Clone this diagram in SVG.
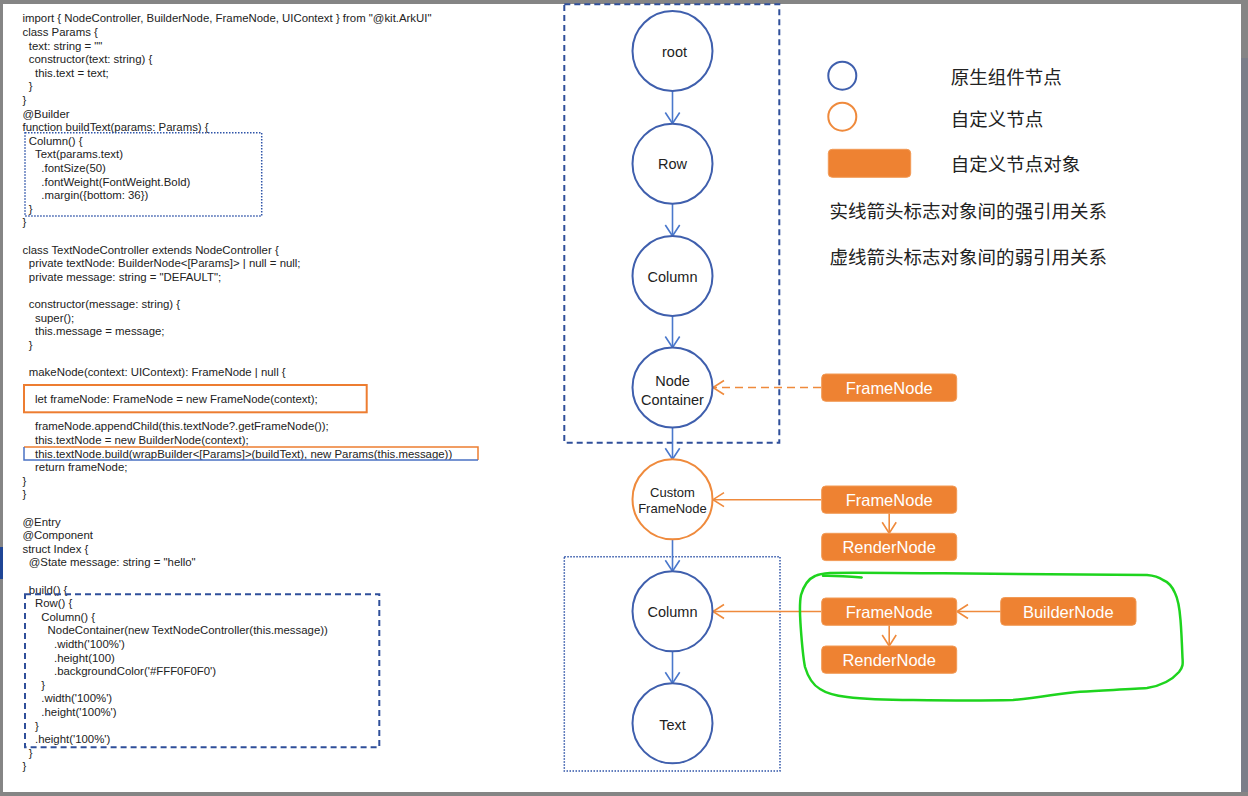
<svg xmlns="http://www.w3.org/2000/svg" width="1248" height="796" viewBox="0 0 1248 796">
<style>
.code{font-family:"Liberation Sans",Arial,sans-serif;font-size:11.4px;fill:#222}
.cn{font-family:"Noto Sans CJK SC","Noto Sans",sans-serif;font-size:18.5px;fill:#222;dominant-baseline:central}
.nt{font-family:"Liberation Sans",Arial,sans-serif;font-size:14.5px;fill:#222;text-anchor:middle;dominant-baseline:central}
.nts{font-family:"Liberation Sans",Arial,sans-serif;font-size:13px;fill:#222;text-anchor:middle;dominant-baseline:central}
.bt{font-family:"Liberation Sans",Arial,sans-serif;font-size:16.5px;fill:#fff;text-anchor:middle;dominant-baseline:central}
.cb{fill:#fff;stroke:#3f5fad;stroke-width:2}
.co{fill:#fff;stroke:#ef8a3c;stroke-width:2}
.box{fill:#ee8232;stroke:#f29a55;stroke-width:1}
.ab{fill:none;stroke:#4a78cc;stroke-width:1.6}
.ao{fill:none;stroke:#ef8a3c;stroke-width:1.6}
</style>
<defs>
<marker id="mb" markerUnits="userSpaceOnUse" markerWidth="16" markerHeight="18" refX="12" refY="8" orient="auto">
<path d="M1,0.8 L12,8 L1,15.2" fill="none" stroke="#4a78cc" stroke-width="1.6"/>
</marker>
<marker id="mo" markerUnits="userSpaceOnUse" markerWidth="16" markerHeight="18" refX="12" refY="8" orient="auto">
<path d="M1,1 L12,8 L1,15" fill="none" stroke="#ef8a3c" stroke-width="1.6"/>
</marker>
</defs>
<!-- frame -->
<rect x="0" y="0" width="1248" height="796" fill="#858585"/>
<rect x="1241" y="58" width="7" height="734" fill="#7a7e89"/>
<rect x="0" y="547" width="3" height="32" fill="#1f4595"/>
<rect x="3" y="4" width="1238" height="788" fill="#fff"/>

<!-- code -->
<g id="code">
<text class="code" x="22.5" y="22.3">import { NodeController, BuilderNode, FrameNode, UIContext } from "@kit.ArkUI"</text>
<text class="code" x="22.5" y="35.9">class Params {</text>
<text class="code" x="28.8" y="49.5">text: string = ""</text>
<text class="code" x="28.8" y="63.1">constructor(text: string) {</text>
<text class="code" x="35" y="76.7">this.text = text;</text>
<text class="code" x="28.8" y="90.3">}</text>
<text class="code" x="22.5" y="103.9">}</text>
<text class="code" x="22.5" y="117.5">@Builder</text>
<text class="code" x="22.5" y="131.1">function buildText(params: Params) {</text>
<text class="code" x="28.8" y="144.7">Column() {</text>
<text class="code" x="35" y="158.3">Text(params.text)</text>
<text class="code" x="41.3" y="171.9">.fontSize(50)</text>
<text class="code" x="41.3" y="185.5">.fontWeight(FontWeight.Bold)</text>
<text class="code" x="41.3" y="199.1">.margin({bottom: 36})</text>
<text class="code" x="28.8" y="212.7">}</text>
<text class="code" x="22.5" y="226.3">}</text>
<text class="code" x="22.5" y="253.5">class TextNodeController extends NodeController {</text>
<text class="code" x="28.8" y="267.1">private textNode: BuilderNode&lt;[Params]&gt; | null = null;</text>
<text class="code" x="28.8" y="280.7">private message: string = "DEFAULT";</text>
<text class="code" x="28.8" y="307.9">constructor(message: string) {</text>
<text class="code" x="35" y="321.5">super();</text>
<text class="code" x="35" y="335.1">this.message = message;</text>
<text class="code" x="28.8" y="348.7">}</text>
<text class="code" x="28.8" y="375.9">makeNode(context: UIContext): FrameNode | null {</text>
<text class="code" x="35" y="403.1">let frameNode: FrameNode = new FrameNode(context);</text>
<text class="code" x="35" y="430.3">frameNode.appendChild(this.textNode?.getFrameNode());</text>
<text class="code" x="35" y="443.9">this.textNode = new BuilderNode(context);</text>
<text class="code" x="35" y="457.5">this.textNode.build(wrapBuilder&lt;[Params]&gt;(buildText), new Params(this.message))</text>
<text class="code" x="35" y="471.1">return frameNode;</text>
<text class="code" x="22.5" y="484.7">}</text>
<text class="code" x="22.5" y="498.3">}</text>
<text class="code" x="22.5" y="525.5">@Entry</text>
<text class="code" x="22.5" y="539.1">@Component</text>
<text class="code" x="22.5" y="552.7">struct Index {</text>
<text class="code" x="28.8" y="566.3">@State message: string = "hello"</text>
<text class="code" x="28.8" y="593.5">build() {</text>
<text class="code" x="35" y="607.1">Row() {</text>
<text class="code" x="41.3" y="620.7">Column() {</text>
<text class="code" x="47.6" y="634.3">NodeContainer(new TextNodeController(this.message))</text>
<text class="code" x="54" y="647.9">.width('100%')</text>
<text class="code" x="54" y="661.5">.height(100)</text>
<text class="code" x="54" y="675.1">.backgroundColor('#FFF0F0F0')</text>
<text class="code" x="41.3" y="688.7">}</text>
<text class="code" x="41.3" y="702.3">.width('100%')</text>
<text class="code" x="41.3" y="715.9">.height('100%')</text>
<text class="code" x="35" y="729.5">}</text>
<text class="code" x="35" y="743.1">.height('100%')</text>
<text class="code" x="28.8" y="756.7">}</text>
<text class="code" x="22.5" y="770.3">}</text>
</g>

<!-- code highlight boxes -->
<g id="code-boxes" fill="none">
<rect x="25" y="132.7" width="236.7" height="83.3" stroke="#2f54a8" stroke-width="1.5" stroke-dasharray="1.5,1.5"/>
<rect x="24" y="385" width="342.7" height="27.3" stroke="#ed7d31" stroke-width="2"/>
<path d="M24,447 L478,447 L478,460" stroke="#ed7d31" stroke-width="1.5"/>
<path d="M24,447 L24,460 L478,460" stroke="#4a72c4" stroke-width="1.5"/>
<rect x="25" y="594.3" width="354.3" height="153" stroke="#2f4f9a" stroke-width="2" stroke-dasharray="6,4"/>
</g>

<!-- container boxes -->
<g id="group-top">
<rect x="564.3" y="4.3" width="215" height="438.4" fill="none" stroke="#2f4f9a" stroke-width="2" stroke-dasharray="6,4"/>
</g>
<g id="group-bottom">
<rect x="564.3" y="556.7" width="215.7" height="214.3" fill="none" stroke="#2f54a8" stroke-width="1.5" stroke-dasharray="1.5,1.5"/>
</g>

<!-- connectors -->
<g id="connectors">
<line class="ab" x1="672.5" y1="91" x2="672.5" y2="123.5" marker-end="url(#mb)"/>
<line class="ab" x1="672.5" y1="203.7" x2="672.5" y2="236" marker-end="url(#mb)"/>
<line class="ab" x1="672.5" y1="316" x2="672.5" y2="347.5" marker-end="url(#mb)"/>
<line class="ab" x1="672.5" y1="427.5" x2="672.5" y2="459.3" marker-end="url(#mb)"/>
<line class="ab" x1="672.5" y1="539.3" x2="672.5" y2="571.3" marker-end="url(#mb)"/>
<line class="ab" x1="672.5" y1="651.3" x2="672.5" y2="683.3" marker-end="url(#mb)"/>
<line class="ao" x1="821" y1="387.5" x2="713" y2="387.5" stroke-dasharray="8,5" marker-end="url(#mo)"/>
<line class="ao" x1="821" y1="499.7" x2="713" y2="499.7" marker-end="url(#mo)"/>
<line class="ao" x1="889.2" y1="513.3" x2="889.2" y2="533.3" marker-end="url(#mo)"/>
<line class="ao" x1="821" y1="611.5" x2="713" y2="611.5" marker-end="url(#mo)"/>
<line class="ao" x1="889.2" y1="625.3" x2="889.2" y2="646" marker-end="url(#mo)"/>
<line class="ao" x1="1000.7" y1="611.5" x2="957" y2="611.5" marker-end="url(#mo)"/>
</g>

<!-- nodes -->
<g id="node-root"><circle class="cb" cx="672.5" cy="51" r="40"/><text class="nt" x="674.5" y="51.5">root</text></g>
<g id="node-row"><circle class="cb" cx="672.5" cy="163.7" r="40"/><text class="nt" x="672.5" y="164">Row</text></g>
<g id="node-column"><circle class="cb" cx="672.5" cy="276" r="40"/><text class="nt" x="672.5" y="276.5">Column</text></g>
<g id="node-nodecontainer"><circle class="cb" cx="672.5" cy="387.5" r="40"/><text class="nt" x="672.5" y="380.5">Node</text><text class="nt" x="672.5" y="399.5">Container</text></g>
<g id="node-custom"><circle class="co" cx="672.5" cy="499.3" r="40"/><text class="nts" x="672.5" y="492.3">Custom</text><text class="nts" x="672.5" y="508.3">FrameNode</text></g>
<g id="node-column2"><circle class="cb" cx="672.5" cy="611.3" r="40"/><text class="nt" x="672.5" y="612">Column</text></g>
<g id="node-text"><circle class="cb" cx="672.5" cy="723.3" r="40"/><text class="nt" x="672.5" y="724.5">Text</text></g>

<g id="box-framenode-1"><rect class="box" x="821.7" y="374" width="135" height="27.3" rx="4"/><text class="bt" x="889.2" y="388">FrameNode</text></g>
<g id="box-framenode-2"><rect class="box" x="821.7" y="486" width="135" height="27.3" rx="4"/><text class="bt" x="889.2" y="500">FrameNode</text></g>
<g id="box-rendernode-1"><rect class="box" x="821.7" y="533.3" width="135" height="27.3" rx="4"/><text class="bt" x="889.2" y="547.3">RenderNode</text></g>
<g id="box-framenode-3"><rect class="box" x="821.7" y="598" width="135" height="27.3" rx="4"/><text class="bt" x="889.2" y="612">FrameNode</text></g>
<g id="box-rendernode-2"><rect class="box" x="821.7" y="646" width="135" height="27.3" rx="4"/><text class="bt" x="889.2" y="660">RenderNode</text></g>
<g id="box-buildernode"><rect class="box" x="1000.7" y="597.5" width="135.3" height="27.8" rx="4"/><text class="bt" x="1068.3" y="611.7">BuilderNode</text></g>

<!-- green hand-drawn outline -->
<g id="green-mark" fill="none" stroke="#1ed41e" stroke-width="2.5" stroke-linecap="round" stroke-linejoin="round">
<path d="M861.7,577.5 C850,576.5 835,575.5 823,575.8"/>
<path d="M815,576 C808,579 804,585 801,595 C799,605 800,615 800.7,627 C802,645 803,657 805,667 C808,677 813,685 820,689 C826,693 834,695.5 847,697 C870,700 890,700 913,700 C950,700.5 990,700.5 1013,700 C1040,698 1060,693 1080,691.7 C1110,690 1135,689 1147,688 C1160,686 1172,680 1179,672 C1183,667 1183,664 1182.5,658 C1182,645 1181.5,632 1180.5,620 C1179.5,607 1178,599 1175,593 C1172,586 1168,582 1163,580 C1158,576.5 1153,575.5 1147,575 C1100,574 1030,573.8 943,573.3 C900,573 850,572.5 830,573 C823,573.5 818,574.5 815,576"/>
</g>

<!-- legend -->
<g id="legend">
<circle cx="842.3" cy="75.7" r="14" fill="#fff" stroke="#3f5fad" stroke-width="2"/>
<circle cx="842.3" cy="116.7" r="14" fill="#fff" stroke="#ef8a3c" stroke-width="2"/>
<rect x="828.3" y="149.3" width="82.4" height="28" rx="4" fill="#ee8232" stroke="#f29a55" stroke-width="1"/>
<text class="cn" x="950.7" y="75.8">原生组件节点</text>
<text class="cn" x="950.7" y="117.5">自定义节点</text>
<text class="cn" x="950.7" y="163.2">自定义节点对象</text>
<text class="cn" x="829.5" y="210.2">实线箭头标志对象间的强引用关系</text>
<text class="cn" x="829.5" y="255.9">虚线箭头标志对象间的弱引用关系</text>
</g>
</svg>
